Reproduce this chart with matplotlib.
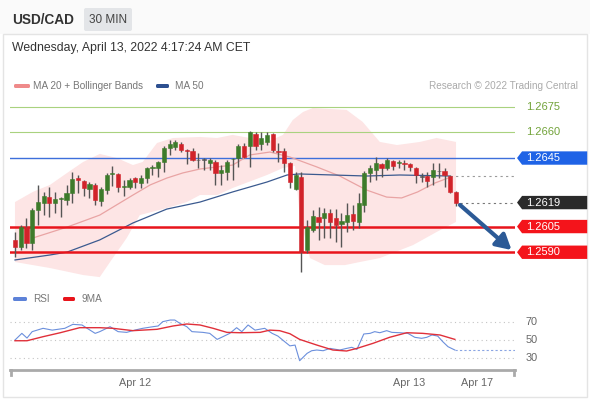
import matplotlib
matplotlib.use("Agg")
import matplotlib.pyplot as plt
from matplotlib.patches import Polygon, FancyBboxPatch, Rectangle
from matplotlib.transforms import blended_transform_factory

plt.rcParams['font.family'] = ['Liberation Sans', 'DejaVu Sans']

# ---------------------------------------------------------
# Data (30 min candles)
# ---------------------------------------------------------
opens = [1.25971, 1.25931, 1.26047, 1.25954, 1.26147, 1.26187, 1.26222, 1.26187, 1.26211, 1.26205,
         1.26246, 1.26333, 1.26316, 1.26269, 1.26293, 1.26199, 1.26263, 1.26357, 1.26357, 1.26281,
         1.26281, 1.26333, 1.26304, 1.26333, 1.26392, 1.26392, 1.26427, 1.26509, 1.26515, 1.26532,
         1.26497, 1.26491, 1.26439, 1.26439, 1.26421, 1.26427, 1.26363, 1.26368, 1.26442, 1.26450,
         1.26520, 1.26520, 1.26591, 1.26532, 1.26544, 1.26591, 1.26491, 1.26491, 1.26421, 1.26269,
         1.26339, 1.25913, 1.26030, 1.26106, 1.26100, 1.26129, 1.26100, 1.26065, 1.26076, 1.26123,
         1.26076, 1.26176, 1.26363, 1.26380, 1.26415, 1.26392, 1.26433, 1.26421, 1.26421, 1.26415,
         1.26392, 1.26345, 1.26345, 1.26339, 1.26374, 1.26374, 1.26345, 1.26252]
highs = [1.26018, 1.26059, 1.26100, 1.26158, 1.26293, 1.26252, 1.26281, 1.26252, 1.26222, 1.26293,
         1.26368, 1.26351, 1.26322, 1.26310, 1.26304, 1.26281, 1.26363, 1.26404, 1.26363, 1.26322,
         1.26333, 1.26339, 1.26351, 1.26398, 1.26409, 1.26433, 1.26520, 1.26555, 1.26555, 1.26544,
         1.26503, 1.26509, 1.26480, 1.26450, 1.26450, 1.26439, 1.26409, 1.26439, 1.26450, 1.26532,
         1.26538, 1.26608, 1.26602, 1.26602, 1.26602, 1.26596, 1.26538, 1.26509, 1.26427, 1.26368,
         1.26368, 1.26088, 1.26147, 1.26164, 1.26158, 1.26152, 1.26152, 1.26129, 1.26187, 1.26176,
         1.26246, 1.26374, 1.26409, 1.26456, 1.26421, 1.26450, 1.26439, 1.26439, 1.26439, 1.26421,
         1.26398, 1.26363, 1.26368, 1.26421, 1.26421, 1.26392, 1.26351, 1.26258]
lows = [1.25872, 1.25913, 1.25925, 1.25913, 1.26059, 1.26117, 1.26106, 1.26129, 1.26106, 1.26176,
        1.26187, 1.26246, 1.26228, 1.26217, 1.26176, 1.26170, 1.26240, 1.26287, 1.26252, 1.26228,
        1.26269, 1.26275, 1.26275, 1.26304, 1.26351, 1.26339, 1.26368, 1.26468, 1.26497, 1.26485,
        1.26415, 1.26433, 1.26392, 1.26380, 1.26380, 1.26293, 1.26293, 1.26322, 1.26322, 1.26398,
        1.26450, 1.26398, 1.26497, 1.26497, 1.26526, 1.26485, 1.26427, 1.26368, 1.26275, 1.26263,
        1.25785, 1.25895, 1.26018, 1.25972, 1.25983, 1.25983, 1.25960, 1.25931, 1.26018, 1.26030,
        1.26041, 1.26135, 1.26310, 1.26322, 1.26339, 1.26380, 1.26380, 1.26392, 1.26380, 1.26374,
        1.26304, 1.26310, 1.26281, 1.26293, 1.26333, 1.26281, 1.26246, 1.26170]
closes = [1.25931, 1.26047, 1.25954, 1.26147, 1.26193, 1.26228, 1.26187, 1.26211, 1.26217, 1.26246,
          1.26328, 1.26322, 1.26275, 1.26298, 1.26205, 1.26269, 1.26351, 1.26363, 1.26281, 1.26287,
          1.26322, 1.26310, 1.26333, 1.26392, 1.26398, 1.26427, 1.26509, 1.26532, 1.26544, 1.26497,
          1.26491, 1.26439, 1.26436, 1.26442, 1.26439, 1.26363, 1.26380, 1.26427, 1.26447, 1.26520,
          1.26456, 1.26602, 1.26520, 1.26567, 1.26585, 1.26497, 1.26485, 1.26421, 1.26310, 1.26351,
          1.25901, 1.26047, 1.26112, 1.26076, 1.26129, 1.26076, 1.26059, 1.26082, 1.26117, 1.26082,
          1.26187, 1.26363, 1.26392, 1.26421, 1.26392, 1.26439, 1.26404, 1.26427, 1.26415, 1.26398,
          1.26351, 1.26342, 1.26316, 1.26380, 1.26377, 1.26351, 1.26252, 1.26190]

# MA 20 + Bollinger bands and MA 50 (candle index, price)
ma20_x = [3.1, 9.1, 14.8, 20.6, 23.6, 26.5, 29.3, 32.3, 38.0, 41.0, 44.5, 48.0, 52.7, 56.7, 61.4,
          64.9, 67.5, 70.3, 73.3, 75.6]
ma20_y = [1.25983, 1.26047, 1.26117, 1.26234, 1.26293, 1.26333, 1.26363, 1.26386, 1.26409, 1.26468,
          1.26485, 1.26456, 1.26398, 1.26345, 1.26263, 1.26222, 1.26217, 1.26252, 1.26304, 1.26333]
bb_up_x = [0, 3.1, 6.1, 9.1, 11.9, 14.8, 17.8, 20.6, 22.3, 24.8, 27.6, 32.3, 35.3, 38.0, 41.0, 44.0,
           46.8, 48.5, 50.3, 52.0, 57.9, 60.7, 63.7, 66.7, 70.7, 73.6, 77.0]
bb_up_y = [1.26193, 1.26252, 1.26293, 1.26363, 1.26427, 1.26474, 1.26450, 1.26409, 1.26427, 1.26538,
           1.26567, 1.26573, 1.26567, 1.26585, 1.26567, 1.26544, 1.26585, 1.26672, 1.26719, 1.26742,
           1.26731, 1.26661, 1.26544, 1.26526, 1.26544, 1.26567, 1.26544]
bb_lo_x = [0, 6.1, 11.9, 14.8, 16.6, 19.5, 21.8, 26.5, 30.0, 32.3, 35.3, 38.0, 44.0, 46.8, 48.9,
           49.7, 51.5, 54.1, 57.6, 60.2, 63.7, 69.5, 73.6, 77.0]
bb_lo_y = [1.25843, 1.25808, 1.25767, 1.25755, 1.25843, 1.25983, 1.26117, 1.26158, 1.26193, 1.26234,
           1.26234, 1.26275, 1.26351, 1.26392, 1.26404, 1.26117, 1.25866, 1.25825, 1.25825, 1.25843,
           1.25866, 1.25942, 1.26018, 1.26077]
ma50_x = [0, 6.1, 9.1, 14.8, 20.6, 26.5, 32.3, 38.0, 44.0, 47.5, 49.7, 55.5, 61.4, 67.2, 75.9]
ma50_y = [1.25855, 1.25884, 1.25901, 1.25972, 1.26071, 1.26152, 1.26193, 1.26252, 1.26310, 1.26351,
          1.26357, 1.26351, 1.26345, 1.26351, 1.26345]

# RSI and its 9 period MA
rsi_x = [0, 1.2, 2.1, 3.0, 4.9, 6.5, 8.7, 10.1, 11.7, 12.6, 14.0, 14.8, 16.6, 18.0, 19.5, 20.9, 22.3,
         24.1, 25.0, 25.8, 27.1, 27.9, 28.8, 30.0, 30.9, 32.8, 34.0, 35.3, 36.3, 37.5, 38.7, 39.6,
         40.7, 41.9, 43.6, 44.9, 45.9, 47.1, 48.0, 48.9, 49.7, 51.0, 51.8, 52.7, 53.8, 55.0, 56.7,
         57.9, 58.8, 59.7, 60.9, 62.0, 62.8, 63.7, 64.9, 65.8, 67.2, 68.6, 69.8, 71.0, 71.9, 72.8,
         73.8, 74.7, 75.6, 76.8]
rsi_v = [50, 57.4, 52.2, 59.3, 63, 61, 63, 67.4, 66.7, 63, 57.4, 59.3, 64.8, 59.3, 58.5, 61, 63,
         64.8, 65.6, 70.4, 72.2, 72.2, 68.5, 64.8, 59.3, 58.5, 57.4, 50.7, 53.7, 57.4, 63.7, 59.3,
         66.7, 61, 63, 57.4, 54.4, 48.1, 43.5, 44.4, 27, 35.2, 38.1, 38.9, 38.1, 40.7, 38.9,
         40.7, 41.9, 39.6, 56.7, 57.4, 59.3, 58.1, 60.4, 58.5, 58.1, 57.4, 53, 51.9, 53, 55.6,
         54.4, 48.1, 42.6, 38.9]
rsi_ma_x = [0, 2.1, 4.9, 7.9, 11.3, 14.8, 17.1, 20.6, 24.8, 27.6, 30.0, 32.3, 34.6, 37.0, 39.3, 42.8,
            44.5, 46.2, 48.0, 49.7, 52.7, 55.5, 57.9, 59.7, 62.5, 65.4, 68.4, 71.2, 74.2, 76.8]
rsi_ma_v = [49.2, 49.2, 53.7, 58.1, 63.7, 63.7, 63, 60.4, 61.9, 65.6, 67.8, 66.7, 63, 58.5, 58.1, 58.5,
            61, 60.4, 57, 50.7, 44.4, 38.9, 37.8, 40.7, 46.3, 53, 58.1, 57.4, 55.6, 50.7]
rsi_levels = [70, 50, 30]

# Price levels: resistances, current price, supports
res_levels = [1.2675, 1.2660]
pivot_level = 1.2645
last_price = 1.2619
sup_levels = [1.2605, 1.2590]

# projected move
proj_x = [77.7, 86.7]
proj_y = [1.26176, 1.25913]

date_ticks = [21, 68.8, 80.7]
date_labels = ["Apr 12", "Apr 13", "Apr 17"]

GREEN_C = "#3d7b2b"
RED_C = "#d1232a"
X_MIN, X_MAX = -0.87, 87.3

fig = plt.figure(figsize=(5.9, 4.0), dpi=100)
fig.patch.set_facecolor("white")

# ---------------------------------------------------------
# Frame, header and legends (pixel coordinates)
# ---------------------------------------------------------
bg = fig.add_axes([0, 0, 1, 1])
bg.set_xlim(0, 590)
bg.set_ylim(400, 0)
bg.axis("off")
bg.add_patch(Rectangle((0, 0), 590, 34, facecolor="#fafafa", edgecolor="none"))
bg.add_patch(Rectangle((3, 34), 584, 363, facecolor="white", edgecolor="#e4e4e4", lw=1))
bg.text(12, 20, "USD/CAD", fontsize=9.8, fontweight="bold", color="#333333", va="center")
bg.add_patch(FancyBboxPatch((84, 8), 48, 23, boxstyle="round,pad=0,rounding_size=2",
                            facecolor="#e3e5e8", edgecolor="none"))
bg.text(108, 20, "30 MIN", fontsize=8.5, color="#444444", va="center", ha="center")
bg.text(12, 48, "Wednesday, April 13, 2022 4:17:24 AM CET", fontsize=8.8, color="#333333",
        va="center")

bg.add_patch(FancyBboxPatch((14, 84), 16, 4, boxstyle="round,pad=0,rounding_size=1.5",
                            facecolor="#ef8a8a", edgecolor="none"))
bg.text(33, 86, "MA 20 + Bollinger Bands", fontsize=7.2, color="#777777", va="center")
bg.add_patch(FancyBboxPatch((156, 84), 13, 4, boxstyle="round,pad=0,rounding_size=1.5",
                            facecolor="#2d5090", edgecolor="none"))
bg.text(175, 86, "MA 50", fontsize=7.2, color="#777777", va="center")
bg.text(578, 86, "Research \u00a9 2022 Trading Central", fontsize=7.2, color="#aaaaaa",
        va="center", ha="right")

bg.add_patch(FancyBboxPatch((13, 297), 14, 4, boxstyle="round,pad=0,rounding_size=1.5",
                            facecolor="#5d82d8", edgecolor="none"))
bg.text(33, 299, "RSI", fontsize=7.2, color="#777777", va="center")
bg.add_patch(FancyBboxPatch((63, 297), 12, 4, boxstyle="round,pad=0,rounding_size=1.5",
                            facecolor="#e8141b", edgecolor="none"))
bg.text(82, 299, "9MA", fontsize=7.2, color="#777777", va="center")

# ---------------------------------------------------------
# Price panel
# ---------------------------------------------------------
ax = fig.add_axes([10 / 590, 120 / 400, 505 / 590, 185 / 400])
ax.set_facecolor("none")
ax.set_xlim(X_MIN, X_MAX)
ax.set_ylim(1.25738, 1.26818)
ax.axis("off")

# bollinger envelope: upper edge left to right, lower edge back
ax.fill(bb_up_x + bb_lo_x[::-1], bb_up_y + bb_lo_y[::-1], color="#fde5e5", lw=0, zorder=1)
ax.plot(ma20_x, ma20_y, color="#e9a4a4", lw=0.9, zorder=2)
ax.plot(ma50_x, ma50_y, color="#3b5a8f", lw=0.9, zorder=2)
ax.plot([ma50_x[-1], X_MAX], [ma50_y[-1], ma50_y[-1]], color="#9a9a9a", lw=0.8,
        ls=(0, (2, 3)), zorder=2)
ax.plot([proj_x[0], X_MAX], [last_price, last_price], color="#777777", lw=0.8,
        ls=(0, (2, 3)), zorder=2)

for lvl in res_levels:
    ax.axhline(lvl, color="#a9d27f", lw=0.8, zorder=1.5)
ax.axhline(pivot_level, color="#3d6fdb", lw=1.0, zorder=1.5)
for lvl in sup_levels:
    ax.axhline(lvl, color="#e8141b", lw=1.8, zorder=3)

for i in range(len(opens)):
    o, h, l, c = opens[i], highs[i], lows[i], closes[i]
    if abs(c - o) < 0.00004:
        col = "#555555"
    elif c > o:
        col = GREEN_C
    else:
        col = RED_C
    ax.vlines(i, l, h, color="#555555", lw=1.0, zorder=4)
    ax.bar(i, max(abs(c - o), 0.00002), bottom=min(o, c), width=0.74, color=col,
           edgecolor=col, lw=0.4, zorder=5)

ax.annotate("", xy=(proj_x[1], proj_y[1]), xytext=(proj_x[0], proj_y[0]),
            arrowprops=dict(arrowstyle="-|>,head_length=0.9,head_width=0.5", color="#2c5a96",
                            lw=3, shrinkA=0, shrinkB=0), zorder=6)

# price tags on the right
tag = blended_transform_factory(ax.transAxes, ax.transData)
hh = 0.00039


def price_tag(val, face, txt_col):
    if face is not None:
        ax.add_patch(Polygon([(1.004, val), (1.014, val + hh), (1.143, val + hh),
                              (1.143, val - hh), (1.014, val - hh)], closed=True,
                             transform=tag, facecolor=face, edgecolor="none", clip_on=False))
    ax.text(1.022, val, f"{val:.4f}", transform=tag, fontsize=8, color=txt_col,
            va="center", ha="left", clip_on=False)


for lvl in res_levels:
    price_tag(lvl, None, "#72a33a")
price_tag(pivot_level, "#1f63e6", "white")
price_tag(last_price, "#2a2a2a", "white")
for lvl in sup_levels:
    price_tag(lvl, "#f4141b", "white")

# ---------------------------------------------------------
# RSI panel
# ---------------------------------------------------------
rx = fig.add_axes([10 / 590, 30 / 400, 505 / 590, 65 / 400])
rx.set_facecolor("none")
rx.set_xlim(X_MIN, X_MAX)
rx.set_ylim(16.7, 88.9)
for lvl in rsi_levels:
    rx.axhline(lvl, color="#c4c4c4", lw=0.8, ls=(0, (1, 3)))
    rx.text(1.02, lvl, str(lvl), transform=blended_transform_factory(rx.transAxes, rx.transData),
            fontsize=7.8, color="#666666", va="center", ha="left")
rx.plot(rsi_x, rsi_v, color="#6b8fdc", lw=0.8)
rx.plot([rsi_x[-1], X_MAX], [rsi_v[-1], rsi_v[-1]], color="#8aa5e3", lw=0.8, ls=(0, (2, 2)))
rx.plot(rsi_ma_x, rsi_ma_v, color="#e0303a", lw=1.0)

for s in ["top", "right", "left"]:
    rx.spines[s].set_visible(False)
rx.spines["bottom"].set_color("#aaaaaa")
rx.spines["bottom"].set_linewidth(2)
rx.plot([0.002, 0.002], [0, -0.08], transform=rx.transAxes, color="#aaaaaa", lw=2,
        clip_on=False)
rx.plot([0.998, 0.998], [0, -0.08], transform=rx.transAxes, color="#aaaaaa", lw=2,
        clip_on=False)
rx.set_yticks([])
rx.set_xticks(date_ticks)
rx.set_xticklabels(date_labels, fontsize=7.8, color="#666666")
rx.tick_params(axis="x", length=0, pad=6)

fig.savefig("out.png", dpi=100, facecolor="white")
